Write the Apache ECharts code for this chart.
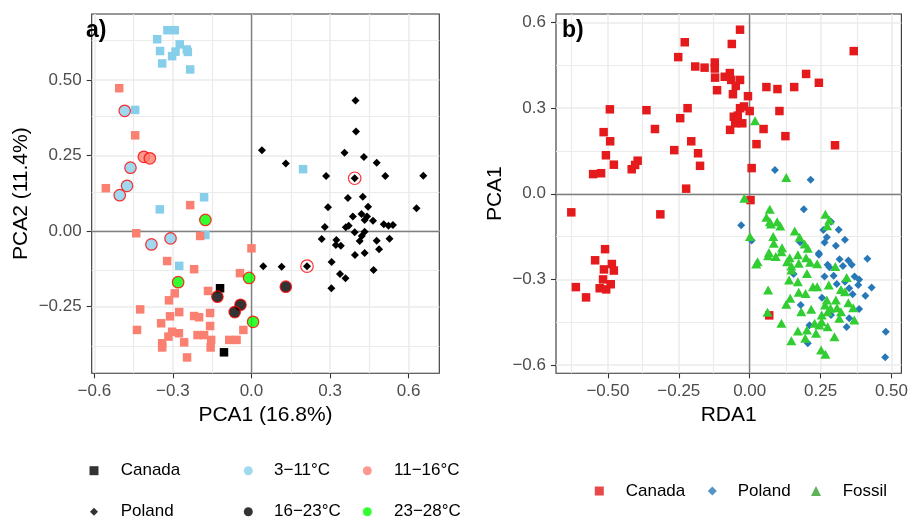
<!DOCTYPE html>
<html>
<head>
<meta charset="utf-8">
<title>PCA / RDA</title>
<script src="https://cdn.jsdelivr.net/npm/echarts@6/dist/echarts.min.js"></script>
<style>
  html, body { margin: 0; padding: 0; background: #fff; }
  #chart { width: 911px; height: 521px; }
</style>
</head>
<body>
<div id="chart"></div>
<script>
// ---------- panel a) : PCA1 x PCA2 ----------
// Canada (squares), coloured by temperature class
const aCanada3to11 = [
  [-0.321, 0.665], [-0.293, 0.665], [-0.360, 0.635], [-0.274, 0.618], [-0.349, 0.596],
  [-0.290, 0.594], [-0.303, 0.579], [-0.247, 0.601], [-0.243, 0.593], [-0.341, 0.555],
  [-0.234, 0.535], [-0.444, 0.401], [0.197, 0.205], [-0.181, 0.112], [-0.350, 0.072],
  [-0.176, -0.013], [-0.276, -0.115]
];
const aCanada11to16 = [
  [-0.505, 0.473], [-0.444, 0.317], [-0.556, 0.142], [-0.234, 0.086], [-0.440, -0.007],
  [-0.196, -0.016], [-0.322, -0.099], [-0.219, -0.126], [-0.044, -0.139], [0.000, -0.057],
  [-0.166, -0.198], [-0.293, -0.206], [-0.315, -0.229], [-0.425, -0.259], [-0.276, -0.268],
  [-0.158, -0.271], [-0.311, -0.282], [-0.219, -0.281], [-0.200, -0.285], [-0.345, -0.305],
  [-0.158, -0.314], [-0.437, -0.327], [-0.031, -0.327], [-0.303, -0.333], [-0.277, -0.338],
  [-0.317, -0.349], [-0.206, -0.344], [-0.181, -0.344], [-0.257, -0.368], [-0.154, -0.360],
  [-0.085, -0.360], [-0.057, -0.360], [-0.341, -0.371], [-0.341, -0.385], [-0.156, -0.385],
  [-0.246, -0.418]
];
const aCanada16to23 = [[-0.120, -0.189], [-0.105, -0.401]];
// Poland (diamonds), all 16-23°C
const aPoland = [
  [0.040, 0.268], [0.045, -0.116], [0.115, -0.118], [0.131, 0.224], [0.285, 0.182],
  [0.355, 0.259], [0.397, 0.432], [0.399, 0.330], [0.429, 0.245], [0.478, 0.226],
  [0.511, 0.182], [0.656, 0.183], [0.368, 0.110], [0.425, 0.114], [0.292, 0.079],
  [0.445, 0.081], [0.630, 0.076], [0.387, 0.048], [0.420, 0.057], [0.441, 0.048],
  [0.432, 0.037], [0.464, 0.034], [0.280, 0.014], [0.371, 0.018], [0.360, 0.013],
  [0.505, 0.023], [0.523, 0.018], [0.540, 0.020], [0.394, -0.004], [0.432, -0.002],
  [0.421, -0.016], [0.413, -0.033], [0.268, -0.026], [0.324, -0.029], [0.322, -0.046],
  [0.341, -0.048], [0.478, -0.032], [0.527, -0.025], [0.487, -0.060], [0.395, -0.079],
  [0.432, -0.072], [0.306, -0.102], [0.338, -0.142], [0.359, -0.156], [0.466, -0.129],
  [0.305, -0.189], [0.394, 0.175], [0.212, -0.116]
];
// highlighted samples (red ring)
const aRing3to11 = [[-0.484, 0.398], [-0.462, 0.210], [-0.475, 0.150], [-0.503, 0.119], [-0.382, -0.044], [-0.309, -0.024]];
const aRing11to16 = [[-0.411, 0.246], [-0.388, 0.241]];
const aRing16to23 = [[-0.130, -0.217], [-0.042, -0.244], [-0.064, -0.268], [0.131, -0.184]];
const aRing23to28 = [[-0.176, 0.037], [-0.280, -0.169], [-0.009, -0.155], [0.006, -0.300]];
const aRingPoland = [[0.394, 0.175], [0.212, -0.116]];

const aXTicks = [-0.6, -0.3, 0, 0.3, 0.6];
const aYTicks = [-0.25, 0, 0.25, 0.5];
const aXMinor = [-0.45, -0.15, 0.15, 0.45];
const aYMinor = [-0.375, -0.125, 0.125, 0.375, 0.625];

// ---------- panel b) : RDA1 x PCA1 ----------
const bCanada = [
  [-0.034, 0.575], [-0.229, 0.531], [-0.063, 0.525], [-0.252, 0.479], [0.367, 0.500],
  [-0.192, 0.446], [-0.159, 0.442], [-0.123, 0.460], [-0.123, 0.439], [-0.070, 0.423],
  [-0.088, 0.410], [-0.034, 0.399], [-0.065, 0.399], [-0.122, 0.407], [0.199, 0.420],
  [0.244, 0.389], [-0.049, 0.378], [-0.115, 0.363], [0.059, 0.374], [0.098, 0.367],
  [0.157, 0.374], [-0.059, 0.349], [-0.006, 0.342], [-0.493, 0.296], [-0.364, 0.293],
  [-0.219, 0.300], [-0.245, 0.265], [-0.034, 0.300], [-0.020, 0.306], [0.000, 0.290],
  [0.105, 0.290], [-0.056, 0.270], [-0.042, 0.274], [-0.026, 0.247], [-0.051, 0.247],
  [-0.069, 0.224], [0.049, 0.227], [-0.515, 0.216], [-0.334, 0.227], [-0.206, 0.184],
  [-0.492, 0.184], [0.126, 0.202], [0.024, 0.174], [0.301, 0.170], [-0.266, 0.153],
  [-0.182, 0.142], [-0.507, 0.135], [-0.479, 0.102], [-0.175, 0.098], [-0.395, 0.116],
  [-0.404, 0.101], [-0.416, 0.086], [-0.552, 0.069], [-0.524, 0.072], [0.007, 0.090],
  [-0.224, 0.018], [0.003, -0.022], [-0.629, -0.065], [-0.315, -0.072], [-0.510, -0.194],
  [-0.545, -0.233], [-0.486, -0.246], [-0.514, -0.265], [-0.479, -0.269], [-0.517, -0.300],
  [-0.490, -0.317], [-0.529, -0.331], [-0.506, -0.335], [-0.613, -0.327], [-0.577, -0.363],
  [0.069, -0.426]
];
const bPoland = [
  [0.089, 0.083], [0.215, 0.049], [0.191, -0.054], [-0.030, -0.110], [0.007, -0.164],
  [0.287, -0.098], [0.260, -0.127], [0.314, -0.126], [0.272, -0.152], [0.264, -0.171],
  [0.336, -0.161], [0.304, -0.182], [0.178, -0.170], [0.244, -0.208], [0.244, -0.214],
  [0.317, -0.229], [0.348, -0.234], [0.360, -0.249], [0.329, -0.253], [0.415, -0.228],
  [0.275, -0.249], [0.281, -0.257], [0.264, -0.290], [0.296, -0.287], [0.307, -0.316],
  [0.336, -0.308], [0.370, -0.290], [0.386, -0.300], [0.383, -0.320], [0.430, -0.328],
  [0.351, -0.331], [0.363, -0.352], [0.408, -0.357], [0.255, -0.364], [0.180, -0.390],
  [0.386, -0.404], [0.287, -0.425], [0.351, -0.436], [0.342, -0.467], [0.211, -0.461],
  [0.480, -0.483], [0.205, -0.524], [0.478, -0.573], [0.155, -0.281]
];
const bFossil = [
  [0.019, 0.256], [0.129, 0.057], [-0.019, -0.016], [0.071, -0.054], [0.059, -0.082],
  [0.071, -0.098], [0.075, -0.106], [0.097, -0.098], [0.108, -0.113], [0.267, -0.072],
  [0.281, -0.092], [0.273, -0.112], [0.159, -0.130], [0.001, -0.150], [0.083, -0.150],
  [0.085, -0.173], [0.176, -0.152], [0.194, -0.176], [0.205, -0.191], [0.114, -0.189],
  [0.112, -0.203], [0.068, -0.206], [0.065, -0.217], [0.092, -0.220], [0.141, -0.224],
  [0.132, -0.238], [0.170, -0.214], [0.199, -0.224], [0.173, -0.243], [0.213, -0.240],
  [0.238, -0.245], [0.028, -0.238], [0.023, -0.246], [0.147, -0.253], [0.302, -0.255],
  [0.147, -0.267], [0.202, -0.279], [0.139, -0.302], [0.170, -0.308], [0.342, -0.293],
  [0.223, -0.326], [0.238, -0.326], [0.279, -0.320], [0.322, -0.335], [0.336, -0.343],
  [0.065, -0.337], [0.173, -0.345], [0.197, -0.349], [0.143, -0.366], [0.129, -0.387],
  [0.182, -0.413], [0.217, -0.405], [0.272, -0.372], [0.304, -0.372], [0.266, -0.390],
  [0.285, -0.401], [0.275, -0.413], [0.308, -0.399], [0.322, -0.413], [0.348, -0.382],
  [0.365, -0.399], [0.254, -0.425], [0.316, -0.436], [0.369, -0.442], [0.063, -0.415],
  [0.112, -0.454], [0.229, -0.454], [0.254, -0.448], [0.246, -0.460], [0.275, -0.466],
  [0.170, -0.481], [0.202, -0.477], [0.234, -0.489], [0.196, -0.506], [0.299, -0.501],
  [0.147, -0.515], [0.252, -0.547], [0.267, -0.562]
];

const bXTicks = [-0.5, -0.25, 0, 0.25, 0.5];
const bYTicks = [-0.6, -0.3, 0, 0.3, 0.6];
const bXMinor = [-0.625, -0.375, -0.125, 0.125, 0.375];
const bYMinor = [-0.45, -0.15, 0.15, 0.45];

const FONT = '"Liberation Sans", Arial, sans-serif';

// ggplot style labels, with a real minus sign
function fmt (v, digits) {
  return (v < 0 ? '\u2212' : '') + Math.abs(v).toFixed(digits);
}

function valueAxis (gridIndex, min, max, ticks, digits, name, gap, labelMargin) {
  return {
    type: 'value',
    gridIndex: gridIndex,
    min: min,
    max: max,
    name: name,
    nameLocation: 'middle',
    nameGap: gap,
    nameTextStyle: { fontFamily: FONT, fontSize: 21, color: '#000' },
    axisLine: { show: false, onZero: false },
    axisTick: { show: true, length: 5, customValues: ticks, lineStyle: { color: '#333', width: 1.1 } },
    axisLabel: {
      margin: labelMargin,
      fontFamily: FONT, fontSize: 17, color: '#4D4D4D',
      customValues: ticks,
      formatter: function (v) { return fmt(v, digits); }
    },
    // grid lines are drawn with markLine below, the axis is not nice-aligned
    splitLine: { show: false },
    minorSplitLine: { show: false }
  };
}

function points (name, data, symbol, size, color, xi, extra) {
  const s = {
    name: name,
    type: 'scatter',
    xAxisIndex: xi,
    yAxisIndex: xi,
    data: data,
    symbol: symbol,
    symbolSize: size,
    itemStyle: { color: color, opacity: 1 },
    emphasis: { disabled: true }
  };
  return Object.assign(s, extra || {});
}

// background lines of one panel: values on x and y, drawn via markLine
function refLines (id, xi, xs, ys, color, width, z) {
  const data = xs.map(function (v) { return { xAxis: v }; })
    .concat(ys.map(function (v) { return { yAxis: v }; }));
  return {
    name: id,
    type: 'scatter',
    xAxisIndex: xi,
    yAxisIndex: xi,
    data: [],
    z: z,
    silent: true,
    markLine: {
      z: z,
      silent: true,
      animation: false,
      symbol: ['none', 'none'],
      label: { show: false },
      emphasis: { disabled: true },
      lineStyle: { color: color, width: width, type: 'solid', opacity: 1 },
      data: data
    }
  };
}

// legend entries: empty series only for the key
function keySeries (name, symbol, color) {
  return { name: name, type: 'scatter', data: [], symbol: symbol, itemStyle: { color: color }, xAxisIndex: 0, yAxisIndex: 0 };
}

function keyLegend (name, icon, size, color, cx, cy, textX) {
  const left = cx - size / 2;
  return {
    left: left,
    top: cy - 8.5,
    padding: 0,
    itemWidth: size,
    itemHeight: size,
    selectedMode: false,
    data: [{ name: name, icon: icon, itemStyle: { color: color } }],
    formatter: function (n) { return n.replace(/^k_(b_)?/, ''); },
    textStyle: {
      fontFamily: FONT, fontSize: 17, color: '#000',
      padding: [0, 0, 0, textX - (left + size + 5)]
    }
  };
}

const chart = echarts.init(document.getElementById('chart'), null, { renderer: 'canvas' });

chart.setOption({
  animation: false,
  backgroundColor: '#fff',
  title: [
    { text: 'a)', left: 86, top: 19, padding: 0, textStyle: { fontFamily: FONT, fontSize: 23, fontWeight: 'bold', color: '#000' } },
    { text: 'b)', left: 562, top: 19, padding: 0, textStyle: { fontFamily: FONT, fontSize: 23, fontWeight: 'bold', color: '#000' } }
  ],
  grid: [
    { left: 91.7, top: 14, width: 347.6, height: 359.3, show: true, borderColor: '#333', borderWidth: 1.1, backgroundColor: 'transparent' },
    { left: 556, top: 14, width: 348.3, height: 359.3, show: true, borderColor: '#333', borderWidth: 1.1, backgroundColor: 'transparent' }
  ],
  xAxis: [
    valueAxis(0, -0.61, 0.717, aXTicks, 1, 'PCA1 (16.8%)', 30, 10),
    valueAxis(1, -0.683, 0.535, bXTicks, 2, 'RDA1', 30, 10)
  ],
  yAxis: [
    valueAxis(0, -0.4705, 0.7185, aYTicks, 2, 'PCA2 (11.4%)', 60, 10),
    valueAxis(1, -0.629, 0.63, bYTicks, 1, 'PCA1', 50.5, 10)
  ],
  legend: [
    keyLegend('k_Canada', 'rect', 9, '#000', 94, 470.7, 120.7),
    keyLegend('k_Poland', 'diamond', 8, '#000', 94, 511.7, 120.7),
    keyLegend('k_3−11°C', 'circle', 9, '#87CEEB', 248.3, 470.7, 274),
    keyLegend('k_16−23°C', 'circle', 9, '#000', 248.3, 511.7, 274),
    keyLegend('k_11−16°C', 'circle', 9, '#FA8072', 367.3, 470.7, 394),
    keyLegend('k_23−28°C', 'circle', 9, '#00FF00', 367.3, 511.7, 394),
    keyLegend('k_b_Canada', 'rect', 9, '#E41A1C', 599.3, 491, 625.7),
    keyLegend('k_b_Poland', 'diamond', 9, '#2878B8', 712.3, 491, 737.7),
    keyLegend('k_b_Fossil', 'triangle', 10, '#33A02C', 816, 491, 842.7)
  ],
  series: [
    refLines('a minor', 0, aXMinor, aYMinor, '#EBEBEB', 1.2, 0),
    refLines('a major', 0, aXTicks, aYTicks, '#EBEBEB', 1.5, 0),
    refLines('a zero', 0, [0], [0], '#7F7F7F', 1.4, 1),
    points('a Canada 3-11', aCanada3to11, 'rect', 8.5, '#87CEEB', 0),
    points('a Canada 11-16', aCanada11to16, 'rect', 8.5, '#FA8072', 0),
    points('a Canada 16-23', aCanada16to23, 'rect', 8.5, '#000', 0),
    points('a Poland', aPoland, 'diamond', 8, '#000', 0),
    points('ring 3-11', aRing3to11, 'circle', 11.5, '#87CEEB', 0, { itemStyle: { color: '#87CEEB', borderColor: '#FF0000', borderWidth: 1.2 } }),
    points('ring 11-16', aRing11to16, 'circle', 11.5, '#FA8072', 0, { itemStyle: { color: '#FA8072', borderColor: '#FF0000', borderWidth: 1.2 } }),
    points('ring 16-23', aRing16to23, 'circle', 11.5, '#000', 0, { itemStyle: { color: '#000', borderColor: '#FF0000', borderWidth: 1.2 } }),
    points('ring 23-28', aRing23to28, 'circle', 11.5, '#00FF00', 0, { itemStyle: { color: '#00FF00', borderColor: '#FF0000', borderWidth: 1.2 } }),
    points('ring Poland', aRingPoland, 'circle', 12.5, 'none', 0, { itemStyle: { color: 'rgba(0,0,0,0)', borderColor: '#FF0000', borderWidth: 1.2 } }),

    refLines('b minor', 1, bXMinor, bYMinor, '#EBEBEB', 1.2, 0),
    refLines('b major', 1, bXTicks, bYTicks, '#EBEBEB', 1.5, 0),
    refLines('b zero', 1, [0], [0], '#7F7F7F', 1.4, 1),
    points('b Canada', bCanada, 'rect', 8.5, '#E41A1C', 1),
    points('b Poland', bPoland, 'diamond', 8, '#2878B8', 1),
    points('b Fossil', bFossil, 'triangle', [10, 9], '#32CD32', 1),

    keySeries('k_Canada', 'rect', '#000'),
    keySeries('k_Poland', 'diamond', '#000'),
    keySeries('k_3−11°C', 'circle', '#87CEEB'),
    keySeries('k_16−23°C', 'circle', '#000'),
    keySeries('k_11−16°C', 'circle', '#FA8072'),
    keySeries('k_23−28°C', 'circle', '#00FF00'),
    keySeries('k_b_Canada', 'rect', '#E41A1C'),
    keySeries('k_b_Poland', 'diamond', '#2878B8'),
    keySeries('k_b_Fossil', 'triangle', '#33A02C')
  ]
});
</script>
</body>
</html>
